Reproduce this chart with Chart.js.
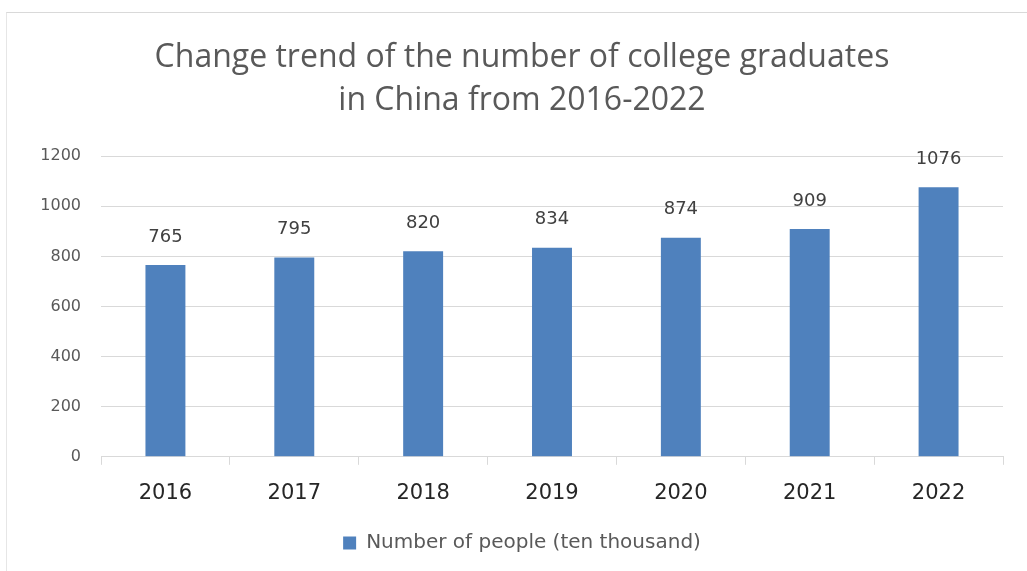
<!DOCTYPE html>
<html><head><meta charset="utf-8">
<script src="https://cdn.jsdelivr.net/npm/chart.js@4/dist/chart.umd.min.js"></script>
<style>
html,body{margin:0;padding:0;background:#fff;}
#wrap{position:absolute;left:6px;top:12px;width:1030px;height:570px;border-top:1px solid #d9d9d9;border-left:1px solid #e6e6e6;box-sizing:border-box;}
</style></head><body>
<div id="wrap"></div>
<canvas id="c" width="1027" height="571" style="position:absolute;left:0;top:0;width:1027px;height:571px"></canvas>
<script>
const categories = ['2016','2017','2018','2019','2020','2021','2022'];
const values = [765, 795, 820, 834, 874, 909, 1076];
const seriesName = 'Number of people (ten thousand)';
const titleLines = ['Change trend of the number of college graduates','in China from 2016-2022'];

const dataLabels = {
  id:'dataLabels',
  afterDatasetsDraw(chart){
    const ctx = chart.ctx;
    const meta = chart.getDatasetMeta(0);
    ctx.save();
    ctx.font = '18px "DejaVu Sans", sans-serif';
    ctx.fillStyle = '#404040';
    ctx.textAlign = 'center';
    ctx.textBaseline = 'bottom';
    meta.data.forEach((bar,i)=>{
      ctx.fillText(String(values[i]), bar.x, bar.y - 19);
    });
    ctx.restore();
  }
};

new Chart(document.getElementById('c'), {
  type:'bar',
  data:{labels:categories, datasets:[{label:seriesName, data:values, backgroundColor:'#4f81bd', borderWidth:0, barPercentage:0.62, categoryPercentage:0.5}]},
  options:{
    responsive:false, animation:false,
    layout:{padding:{left:41,right:24,top:18,bottom:8}},
    plugins:{
      title:{display:true, text:titleLines, color:'#595959', font:{family:'"Open Sans", sans-serif', size:32, weight:'normal', lineHeight:1.33}, padding:{top:19,bottom:34}},
      legend:{position:'bottom', labels:{color:'#595959', font:{family:'"DejaVu Sans", sans-serif', size:20}, boxWidth:13, boxHeight:13, padding:11}},
      tooltip:{enabled:false}
    },
    scales:{
      x:{grid:{display:true, drawOnChartArea:false, drawTicks:true, tickLength:8, color:'#d9d9d9', offset:true}, border:{color:'#d9d9d9'}, ticks:{color:'#262626', font:{family:'"DejaVu Sans", sans-serif', size:21}, padding:16}},
      y:{min:0,max:1200, afterFit:(s)=>{s.width=60;}, ticks:{stepSize:200, color:'#595959', font:{family:'"DejaVu Sans", sans-serif', size:16}, padding:20, callback:(v)=>String(v)}, grid:{color:'#d9d9d9', drawTicks:false}, border:{display:false}}
    }
  },
  plugins:[dataLabels]
});
</script>
</body></html>
